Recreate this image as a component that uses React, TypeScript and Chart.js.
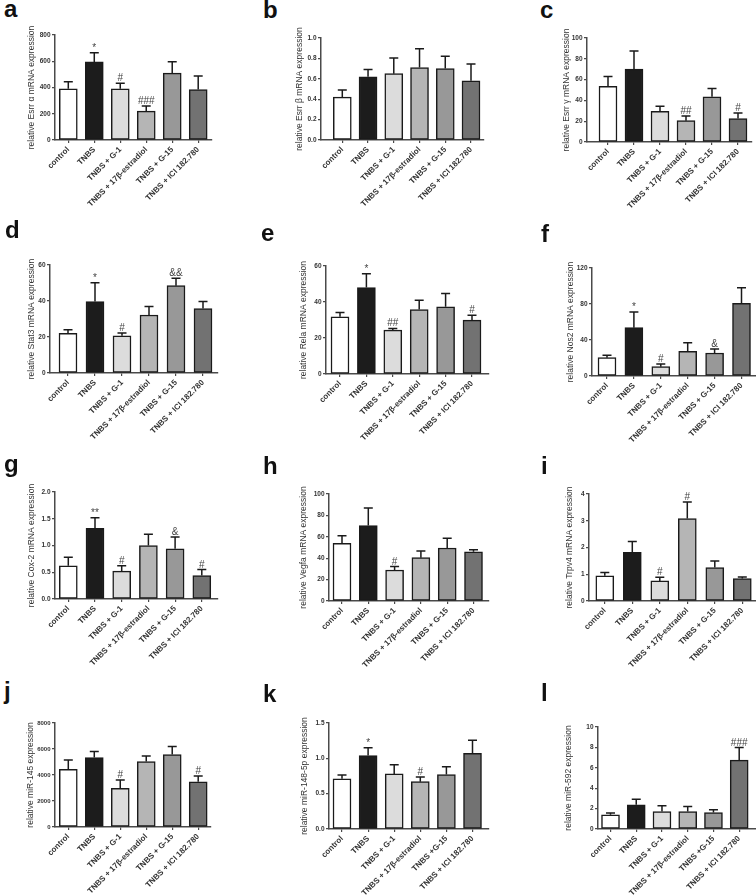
import React, { useEffect, useRef } from "react";
import { Chart, registerables } from "chart.js";

Chart.register(...registerables);

// ---------------- data ----------------
const groupsMain = ["control", "TNBS", "TNBS + G-1", "TNBS + 17β-estradiol", "TNBS + G-15", "TNBS + ICI 182.780"];
const groupsMiR = ["control", "TNBS", "TNBS + G-1", "TNBS + 17β-estradiol", "TNBS +G-15", "TNBS + ICI 182.780"];

const esrraMean = [390, 595, 390, 220, 510, 385];
const esrraSem = [53, 70, 42, 39, 87, 103];
const esrraSig = ["", "*", "#", "###", "", ""];

const esrrbMean = [0.42, 0.62, 0.65, 0.71, 0.70, 0.58];
const esrrbSem = [0.07, 0.07, 0.155, 0.185, 0.12, 0.165];
const esrrbSig = ["", "", "", "", "", ""];

const esrrgMean = [53.5, 70, 29.5, 20.5, 43.5, 22.5];
const esrrgSem = [9.5, 17.5, 4.8, 4.5, 8, 5.5];
const esrrgSig = ["", "", "", "##", "", "#"];

const stat3Mean = [22, 39.7, 20.7, 32.2, 48.5, 35.8];
const stat3Sem = [2, 10.5, 1.5, 4.7, 4.1, 3.9];
const stat3Sig = ["", "*", "#", "", "&&", ""];

const relaMean = [31.8, 48, 24.4, 35.8, 37.3, 29.9];
const relaSem = [2.4, 7.7, 0.9, 5.2, 7.4, 2.8];
const relaSig = ["", "*", "##", "", "", "#"];

const nos2Mean = [20.4, 53.7, 10.4, 27.4, 25.6, 80.7];
const nos2Sem = [2.6, 17.4, 2.9, 9.6, 4.4, 17.4];
const nos2Sig = ["", "*", "#", "", "&", ""];

const cox2Mean = [0.62, 1.32, 0.52, 1.0, 0.94, 0.44];
const cox2Sem = [0.16, 0.2, 0.1, 0.21, 0.22, 0.11];
const cox2Sig = ["", "**", "#", "", "&", "#"];

const vegfaMean = [54, 70.5, 29, 40.5, 49.5, 46];
const vegfaSem = [7, 16.5, 3.2, 6.3, 9.1, 1.8];
const vegfaSig = ["", "", "#", "", "", ""];

const trpv4Mean = [0.94, 1.82, 0.75, 3.08, 1.25, 0.84];
const trpv4Sem = [0.13, 0.4, 0.14, 0.62, 0.25, 0.06];
const trpv4Sig = ["", "", "#", "#", "", ""];

const mir145Mean = [4440, 5340, 2970, 5030, 5570, 3480];
const mir145Sem = [720, 460, 650, 440, 620, 440];
const mir145Sig = ["", "", "#", "", "", "#"];

const mir148Mean = [0.71, 1.04, 0.78, 0.67, 0.77, 1.07];
const mir148Sem = [0.055, 0.11, 0.13, 0.065, 0.11, 0.185];
const mir148Sig = ["", "*", "", "#", "", ""];

const mir592Mean = [1.4, 2.37, 1.72, 1.72, 1.62, 6.75];
const mir592Sem = [0.16, 0.55, 0.55, 0.49, 0.26, 1.24];
const mir592Sig = ["", "", "", "", "", "###"];

// y-axis tick specs: [max, step, decimals]
const ticksA = [800, 200, 0];
const ticksB = [1.0, 0.2, 1];
const ticksC = [100, 20, 0];
const ticksD = [60, 20, 0];
const ticksE = [60, 20, 0];
const ticksF = [120, 40, 0];
const ticksG = [2.0, 0.5, 1];
const ticksH = [100, 20, 0];
const ticksI = [4, 1, 0];
const ticksJ = [8000, 2000, 0];
const ticksK = [1.5, 0.5, 1];
const ticksL = [10, 2, 0];

const panels = [
  { letter: "a", title: "relative Esrr α mRNA expression", labels: groupsMain, mean: esrraMean, sem: esrraSem, sig: esrraSig, ticks: ticksA },
  { letter: "b", title: "relative Esrr β mRNA expression", labels: groupsMain, mean: esrrbMean, sem: esrrbSem, sig: esrrbSig, ticks: ticksB },
  { letter: "c", title: "relative Esrr γ mRNA expression", labels: groupsMain, mean: esrrgMean, sem: esrrgSem, sig: esrrgSig, ticks: ticksC },
  { letter: "d", title: "relative Stat3 mRNA expression", labels: groupsMain, mean: stat3Mean, sem: stat3Sem, sig: stat3Sig, ticks: ticksD },
  { letter: "e", title: "relative Rela mRNA expression", labels: groupsMain, mean: relaMean, sem: relaSem, sig: relaSig, ticks: ticksE },
  { letter: "f", title: "relative Nos2 mRNA expression", labels: groupsMain, mean: nos2Mean, sem: nos2Sem, sig: nos2Sig, ticks: ticksF },
  { letter: "g", title: "relative Cox-2 mRNA expression", labels: groupsMain, mean: cox2Mean, sem: cox2Sem, sig: cox2Sig, ticks: ticksG },
  { letter: "h", title: "relative Vegfa mRNA expression", labels: groupsMain, mean: vegfaMean, sem: vegfaSem, sig: vegfaSig, ticks: ticksH },
  { letter: "i", title: "relative Trpv4 mRNA expression", labels: groupsMain, mean: trpv4Mean, sem: trpv4Sem, sig: trpv4Sig, ticks: ticksI },
  { letter: "j", title: "relative miR-145 expression", labels: groupsMain, mean: mir145Mean, sem: mir145Sem, sig: mir145Sig, ticks: ticksJ },
  { letter: "k", title: "relative miR-148-5p expression", labels: groupsMiR, mean: mir148Mean, sem: mir148Sem, sig: mir148Sig, ticks: ticksK },
  { letter: "l", title: "relative miR-592 expression", labels: groupsMiR, mean: mir592Mean, sem: mir592Sem, sig: mir592Sig, ticks: ticksL },
];

// ---------------- layout (page pixels) ----------------
const boxes: Record<string, any> = {
  a: { axis: 55, right: 212, first: 68.3, last: 198.2, top: 35, zero: 140, gap: 23, tf: 6.5, lx: 4, ly: 17 },
  b: { axis: 321, right: 484, first: 342.3, last: 471, top: 38, zero: 140, gap: 21, tf: 6.5, lx: 263, ly: 18 },
  c: { axis: 587, right: 752, first: 608, last: 738, top: 38, zero: 142, gap: 20, tf: 6.5, lx: 540, ly: 18 },
  d: { axis: 50, right: 218, first: 68, last: 203, top: 265, zero: 373, gap: 18, tf: 6.5, lx: 5, ly: 238 },
  e: { axis: 326, right: 489, first: 340, last: 472, top: 266, zero: 374, gap: 22, tf: 6.5, lx: 261, ly: 241 },
  f: { axis: 592, right: 758, first: 607, last: 741.5, top: 268, zero: 376, gap: 21, tf: 6.5, lx: 541, ly: 242 },
  g: { axis: 55, right: 218, first: 68.3, last: 201.8, top: 492, zero: 599, gap: 23, tf: 6.5, lx: 4, ly: 472 },
  h: { axis: 329, right: 489, first: 342, last: 473.5, top: 494, zero: 601, gap: 25, tf: 6.5, lx: 263, ly: 474 },
  i: { axis: 589, right: 758, first: 604.8, last: 742.3, top: 494, zero: 601, gap: 19, tf: 6.5, lx: 541, ly: 474 },
  j: { axis: 55, right: 211, first: 68.3, last: 198.2, top: 723, zero: 827, gap: 24, tf: 6, lx: 4, ly: 699 },
  k: { axis: 329, right: 489, first: 342, last: 472.5, top: 723, zero: 829, gap: 24, tf: 6.5, lx: 263, ly: 702 },
  l: { axis: 598, right: 758, first: 610.5, last: 739.2, top: 727, zero: 829, gap: 29, tf: 6.5, lx: 541, ly: 701 },
};

const FONT = "'Liberation Sans', Arial, Helvetica, sans-serif";
const barColors = ["#ffffff", "#1c1c1c", "#dcdcdc", "#b5b5b5", "#989898", "#727272"];
const AXIS = "#4a4a4a";
const TXT = "#333333";
const INK = "#1a1a1a";

const PADT = 12;
const YW = 40;
const XH = 85;
const PADR = 4;
const LETTER_SIZE = 24;

function Panel({ p }: { p: any }) {
  const ref = useRef<HTMLCanvasElement>(null);
  const box = boxes[p.letter];
  const left = Math.round(box.axis) - YW;
  const top = Math.round(box.top) - PADT;
  const plotW = Math.round(box.right) - Math.round(box.axis);
  const plotH = Math.round(box.zero) - Math.round(box.top);
  const width = YW + plotW + PADR;
  const height = PADT + plotH + XH;

  useEffect(() => {
    const canvas = ref.current;
    if (!canvas) return;
    const s = (box.last - box.first) / 5;
    const extraL = (box.first - box.axis) / s - 0.5;
    const extraR = (box.right - box.last) / s - 0.5;
    const [yMax, yStep, dec] = p.ticks;

    const extras = {
      id: "extras_" + p.letter,
      afterDatasetsDraw(chart: any) {
        const { ctx, chartArea } = chart;
        const meta = chart.getDatasetMeta(0);
        const ys = chart.scales.y;
        ctx.save();
        ctx.strokeStyle = INK;
        ctx.lineWidth = 1.5;
        meta.data.forEach((bar: any, i: number) => {
          const v = p.mean[i];
          const base = ys.getPixelForValue(v);
          const tip = ys.getPixelForValue(v + p.sem[i]);
          ctx.beginPath();
          ctx.moveTo(bar.x, base);
          ctx.lineTo(bar.x, tip);
          ctx.moveTo(bar.x - 4.5, tip);
          ctx.lineTo(bar.x + 4.5, tip);
          ctx.stroke();
          if (p.sig[i]) {
            ctx.fillStyle = "#444";
            ctx.font = "10px " + FONT;
            ctx.textAlign = "center";
            ctx.textBaseline = "alphabetic";
            ctx.fillText(p.sig[i], bar.x, tip - 2);
          }
        });
        ctx.translate(chartArea.left - box.gap, (chartArea.top + chartArea.bottom) / 2);
        ctx.rotate(-Math.PI / 2);
        ctx.fillStyle = TXT;
        ctx.font = "8.5px " + FONT;
        ctx.textAlign = "center";
        ctx.textBaseline = "middle";
        ctx.fillText(p.title, 0, 0);
        ctx.restore();
      },
    };

    const chart = new Chart(canvas, {
      type: "bar",
      data: {
        labels: p.labels,
        datasets: [
          {
            data: p.mean,
            backgroundColor: barColors,
            borderColor: INK,
            borderWidth: 1.5,
            borderSkipped: false,
            barThickness: 18,
          },
        ],
      },
      options: {
        responsive: false,
        animation: false,
        devicePixelRatio: 1,
        layout: { padding: { left: 0, top: PADT, right: PADR, bottom: 0 } },
        plugins: { legend: { display: false }, tooltip: { enabled: false } },
        scales: {
          x: {
            type: "category",
            offset: true,
            afterBuildTicks: (sc: any) => {
              sc._startValue = -0.5 - extraL;
              sc._valueRange = 6 + extraL + extraR;
            },
            afterFit: (sc: any) => {
              sc.height = XH;
              sc.paddingLeft = 0;
              sc.paddingRight = 0;
            },
            grid: { display: true, drawOnChartArea: false, offset: false, tickLength: 3, color: AXIS, lineWidth: 1.2 },
            border: { display: true, color: AXIS, width: 1.5 },
            ticks: {
              autoSkip: false,
              minRotation: 45,
              maxRotation: 45,
              padding: 2,
              color: TXT,
              font: { family: FONT, size: 8, weight: "bold" },
            },
          },
          y: {
            min: 0,
            max: yMax,
            afterFit: (sc: any) => {
              sc.width = YW;
              sc.paddingTop = 0;
              sc.paddingBottom = 0;
            },
            grid: { display: true, drawOnChartArea: false, tickLength: 3, color: AXIS, lineWidth: 1.2 },
            border: { display: true, color: AXIS, width: 1.5 },
            ticks: {
              stepSize: yStep,
              padding: 1.5,
              color: TXT,
              font: { family: FONT, size: box.tf, weight: "bold" },
              callback: (v: any) => Number(v).toFixed(dec),
            },
          },
        },
      } as any,
      plugins: [extras as any],
    });
    return () => chart.destroy();
  }, []);

  return (
    <canvas
      ref={ref}
      width={width}
      height={height}
      style={{ position: "absolute", left, top, width, height }}
    />
  );
}

export default function App() {
  return (
    <div
      style={{
        position: "absolute",
        left: 0,
        top: 0,
        width: 756,
        height: 895,
        overflow: "hidden",
        background: "#ffffff",
      }}
    >
      {panels.map((p) => (
        <Panel key={p.letter} p={p} />
      ))}
      {panels.map((p) => {
        const b = boxes[p.letter];
        return (
          <div
            key={"L" + p.letter}
            style={{
              position: "absolute",
              left: b.lx,
              top: b.ly - LETTER_SIZE * 0.8465,
              font: "bold " + LETTER_SIZE + "px " + FONT,
              lineHeight: LETTER_SIZE + "px",
              color: "#111",
            }}
          >
            {p.letter}
          </div>
        );
      })}
    </div>
  );
}
